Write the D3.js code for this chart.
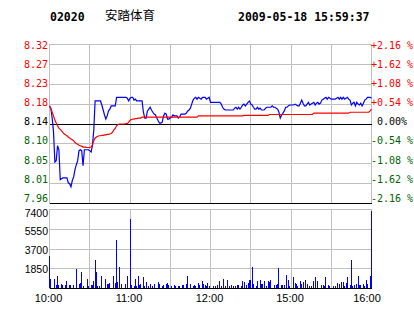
<!DOCTYPE html>
<html><head><meta charset="utf-8">
<script src="https://cdn.jsdelivr.net/npm/d3@7"></script>
<style>
html,body{margin:0;padding:0;background:#fff;}
svg{display:block;}
text{white-space:pre;}
</style></head><body>
<svg id="c" width="414" height="314"></svg>
<script>
const stockCode = "02020";
const stockName = "安踏体育";
const stamp = "2009-05-18 15:59:37";
const prevClose = 8.14;
const pctTicks = [2.16, 1.62, 1.08, 0.54, 0, -0.54, -1.08, -1.62, -2.16];
const priceLabels = ["8.32","8.27","8.23","8.18","8.14","8.10","8.05","8.01","7.96"];
const pctLabels = ["+2.16 %","+1.62 %","+1.08 %","+0.54 %"," 0.00%","-0.54 %","-1.08 %","-1.62 %","-2.16 %"];
const volTicks = [7400, 5550, 3700, 1850, 0];
const volLabels = ["7400","5550","3700","1850"];
const timeTicks = [0, 60, 120, 180, 240];
const timeLabels = ["10:00","11:00","12:00","15:00","16:00"];
const gridMinutes = [0, 30, 60, 90, 120, 150, 180, 210, 240];

// one value per trading minute (10:00-12:30, 14:30-16:00)
const price = [
8.180,8.175,8.153,8.122,8.056,8.059,8.092,8.083,8.017,8.019,
8.021,8.021,8.021,8.021,8.010,8.008,8.001,8.015,8.023,8.039,
8.050,8.059,8.081,8.083,8.081,8.048,8.083,8.083,8.083,8.083,
8.081,8.078,8.092,8.127,8.191,8.191,8.191,8.191,8.191,8.182,
8.171,8.160,8.151,8.158,8.169,8.173,8.180,8.180,8.180,8.180,
8.199,8.199,8.199,8.199,8.199,8.199,8.199,8.199,8.197,8.191,
8.197,8.199,8.199,8.193,8.195,8.191,8.191,8.191,8.191,8.191,
8.166,8.153,8.153,8.169,8.173,8.177,8.171,8.166,8.162,8.160,
8.153,8.147,8.142,8.142,8.144,8.158,8.164,8.162,8.151,8.151,
8.153,8.155,8.160,8.158,8.158,8.158,8.153,8.155,8.162,8.162,
8.162,8.162,8.164,8.169,8.171,8.175,8.184,8.193,8.197,8.199,
8.195,8.199,8.197,8.195,8.199,8.199,8.199,8.195,8.197,8.199,
8.188,8.188,8.188,8.188,8.188,8.188,8.188,8.188,8.184,8.177,
8.173,8.171,8.171,8.171,8.171,8.171,8.171,8.171,8.175,8.177,
8.173,8.177,8.173,8.177,8.182,8.184,8.180,8.184,8.188,8.191,
8.184,8.182,8.177,8.173,8.173,8.177,8.173,8.175,8.171,8.171,
8.171,8.175,8.177,8.177,8.177,8.177,8.180,8.177,8.177,8.175,
8.173,8.166,8.153,8.160,8.164,8.169,8.177,8.177,8.180,8.182,
8.182,8.182,8.182,8.184,8.182,8.180,8.180,8.186,8.193,8.186,
8.180,8.180,8.184,8.188,8.182,8.184,8.186,8.188,8.182,8.186,
8.188,8.184,8.186,8.193,8.195,8.197,8.199,8.195,8.199,8.197,
8.195,8.195,8.195,8.195,8.197,8.199,8.195,8.199,8.195,8.199,
8.195,8.197,8.199,8.195,8.193,8.182,8.186,8.188,8.180,8.188,
8.184,8.182,8.186,8.180,8.186,8.193,8.195,8.199,8.199,8.199,
8.197
];
const avgPrice = [
8.180,8.174,8.166,8.158,8.149,8.142,8.136,8.131,8.128,8.125,
8.121,8.118,8.116,8.114,8.111,8.109,8.107,8.105,8.103,8.099,
8.097,8.095,8.093,8.092,8.091,8.089,8.089,8.089,8.088,8.088,
8.088,8.089,8.094,8.103,8.109,8.111,8.113,8.114,8.114,8.115,
8.115,8.116,8.116,8.117,8.117,8.118,8.119,8.122,8.127,8.130,
8.136,8.139,8.140,8.140,8.140,8.140,8.140,8.141,8.141,8.144,
8.148,8.150,8.151,8.151,8.152,8.152,8.153,8.153,8.153,8.155,
8.155,8.155,8.155,8.155,8.155,8.155,8.155,8.155,8.155,8.155,
8.155,8.155,8.155,8.155,8.155,8.155,8.155,8.155,8.155,8.155,
8.155,8.155,8.155,8.155,8.155,8.155,8.155,8.155,8.155,8.155,
8.155,8.155,8.155,8.155,8.155,8.155,8.155,8.155,8.155,8.155,
8.155,8.158,8.158,8.158,8.158,8.158,8.158,8.158,8.158,8.158,
8.158,8.158,8.158,8.158,8.158,8.158,8.158,8.158,8.158,8.158,
8.158,8.158,8.158,8.158,8.158,8.158,8.158,8.158,8.158,8.158,
8.158,8.158,8.158,8.158,8.158,8.159,8.159,8.159,8.159,8.159,
8.159,8.159,8.159,8.159,8.159,8.159,8.159,8.159,8.159,8.159,
8.159,8.159,8.159,8.159,8.161,8.161,8.161,8.161,8.161,8.161,
8.161,8.161,8.161,8.161,8.161,8.161,8.161,8.161,8.161,8.161,
8.161,8.161,8.161,8.161,8.161,8.161,8.161,8.161,8.161,8.161,
8.161,8.161,8.161,8.161,8.161,8.161,8.161,8.164,8.164,8.164,
8.164,8.164,8.164,8.164,8.164,8.164,8.164,8.164,8.164,8.164,
8.164,8.164,8.164,8.164,8.164,8.164,8.164,8.164,8.164,8.164,
8.164,8.164,8.164,8.164,8.166,8.166,8.166,8.166,8.166,8.166,
8.166,8.166,8.166,8.166,8.166,8.166,8.166,8.166,8.166,8.169,
8.173
];
const volume = [
3030,870,0,0,850,310,1150,310,0,400,
250,0,310,690,0,310,250,0,310,0,
1810,0,400,470,1500,220,0,0,870,220,
0,250,310,620,2650,1500,220,220,0,1150,
0,0,870,400,370,470,0,0,1150,470,
4520,560,2000,0,400,0,0,370,1150,0,
6490,310,0,220,870,220,1150,310,370,0,
1060,220,560,0,220,370,0,220,370,0,
0,560,370,0,220,310,0,370,470,310,
0,160,0,310,220,0,220,220,0,310,
310,0,370,1150,0,370,0,220,310,220,
0,470,310,0,690,370,310,220,470,220,
0,0,220,0,220,310,0,690,220,0,
870,220,0,780,220,0,310,220,0,220,
310,310,0,220,690,560,0,310,470,780,
780,2000,370,0,220,690,0,780,370,370,
690,0,220,690,560,750,0,0,310,310,
370,1870,0,310,310,310,0,1250,780,220,
0,0,1000,470,370,220,0,690,370,560,
0,750,370,0,220,220,0,690,1060,0,
690,0,0,310,310,220,1060,0,310,220,
0,0,220,220,0,470,370,0,590,590,
220,440,1000,0,310,2650,220,310,0,370,
1150,310,310,0,370,220,780,370,0,1150,
7240
];

const svg = d3.select("#c");
const grid = "#c0c0c0", red = "#ff0000", green = "#006400";
const x = d3.scaleLinear().domain([0, 240]).range([49.5, 371.5]);
const y = d3.scaleLinear().domain([prevClose * (1 - 0.0216), prevClose * (1 + 0.0216)]).range([203.5, 44.5]);
const yPct = d3.scaleLinear().domain([-2.16, 2.16]).range([203.5, 44.5]);
const yLab = d3.scaleLinear().domain([-2.16, 2.16]).range([201.7, 49]);
const v = d3.scaleLinear().domain([0, 7400]).range([288.5, 209.5]);
const vLab = d3.scaleLinear().domain([1850, 7400]).range([273, 216.7]);
const snap = p => Math.floor(p) + 0.5;

svg.append("rect").attr("width", 414).attr("height", 314).attr("fill", "#fff");

// header
svg.append("text").attr("x", 50).attr("y", 20.5).text(stockCode)
  .attr("font-family", "DejaVu Sans Mono").attr("font-weight", "bold").attr("font-size", 11.5);
svg.append("text").attr("x", 105).attr("y", 19.5).text(stockName)
  .attr("font-family", "Noto Sans CJK SC").attr("font-size", 12.5);
svg.append("text").attr("x", 238).attr("y", 20.5).text(stamp)
  .attr("font-family", "DejaVu Sans Mono").attr("font-weight", "bold").attr("font-size", 11.5);

// price grid
const g = svg.append("g").attr("shape-rendering", "crispEdges");
g.selectAll(".vg").data(gridMinutes).join("line")
  .attr("x1", d => snap(x(d))).attr("x2", d => snap(x(d)))
  .attr("y1", 44).attr("y2", 204).attr("stroke", grid);
g.selectAll(".vg2").data(gridMinutes).join("line")
  .attr("x1", d => snap(x(d))).attr("x2", d => snap(x(d)))
  .attr("y1", 209).attr("y2", 289).attr("stroke", grid);
g.selectAll(".hg").data(pctTicks).join("line")
  .attr("x1", snap(x(0))).attr("x2", snap(x(240)) + 0.5)
  .attr("y1", d => snap(yPct(d))).attr("y2", d => snap(yPct(d)))
  .attr("stroke", d => (d === 0 || d === -2.16) ? "#000" : grid);
g.selectAll(".vhg").data(volTicks).join("line")
  .attr("x1", snap(x(0))).attr("x2", snap(x(240)) + 0.5)
  .attr("y1", d => snap(v(d))).attr("y2", d => snap(v(d)))
  .attr("stroke", d => d === 0 ? "#000" : grid);

// labels
const labColor = d => d > 0 ? red : (d < 0 ? green : "#000");
svg.selectAll(".pl").data(pctTicks).join("text")
  .attr("x", 48).attr("y", d => yLab(d)).attr("text-anchor", "end")
  .attr("font-family", "DejaVu Sans Mono").attr("font-size", 10)
  .attr("fill", labColor).text((d, i) => priceLabels[i]);
svg.selectAll(".rl").data(pctTicks).join("text")
  .attr("x", 371).attr("y", d => yLab(d))
  .attr("font-family", "DejaVu Sans Mono").attr("font-size", 10)
  .attr("fill", labColor).text((d, i) => pctLabels[i]);
svg.selectAll(".vl").data(volTicks.slice(0, 4)).join("text")
  .attr("x", 48).attr("y", d => vLab(d)).attr("text-anchor", "end")
  .attr("font-family", "Liberation Sans").attr("font-size", 10.5)
  .attr("fill", "#000").text((d, i) => volLabels[i]);
svg.selectAll(".tl").data(timeTicks).join("text")
  .attr("x", d => Math.min(x(d) - 1, 367)).attr("y", 302).attr("text-anchor", "middle")
  .attr("font-family", "Liberation Sans").attr("font-size", 11)
  .attr("fill", "#000").text((d, i) => timeLabels[i]);

// volume bars
svg.append("g").attr("shape-rendering", "crispEdges").selectAll("rect")
  .data(volume).join("rect")
  .attr("x", (d, i) => Math.floor(x(i))).attr("width", 1)
  .attr("y", d => v(d) - 0.5).attr("height", d => 288 - (v(d) - 0.5))
  .attr("fill", "#0000ff").attr("display", d => d > 0 ? null : "none");

// price & average lines
const line = d3.line().x((d, i) => x(i)).y(d => y(d));
svg.append("path").datum(price).attr("d", line)
  .attr("fill", "none").attr("stroke", "#0000ff").attr("stroke-width", 1.2);
svg.append("path").datum(avgPrice).attr("d", line)
  .attr("fill", "none").attr("stroke", red).attr("stroke-width", 1.2);
</script>
</body></html>
